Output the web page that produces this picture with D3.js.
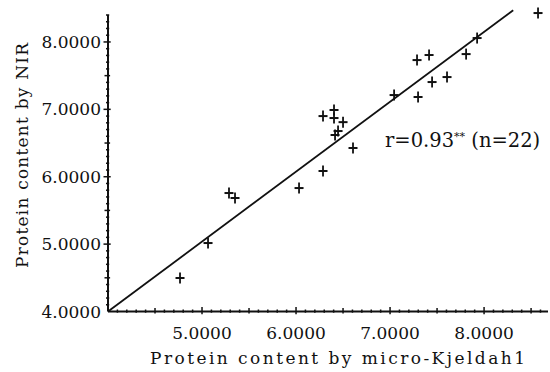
<!DOCTYPE html>
<html>
<head>
<meta charset="utf-8">
<script src="https://cdn.jsdelivr.net/npm/d3@7"></script>
<style>
  body { margin: 0; background: #fff; }
  text { font-family: "DejaVu Serif", serif; fill: #111; }
</style>
</head>
<body>
<script>
// protein content, micro-Kjeldahl (x) vs NIR (y)
var kjeldahl = [4.766, 5.064, 5.287, 5.351, 6.032, 6.287, 6.606, 6.287, 6.404, 6.404, 6.500,
                6.415, 6.447, 7.043, 7.298, 7.447, 7.606, 7.287, 7.415, 7.809, 7.926, 8.574];
var nir      = [4.497, 5.016, 5.758, 5.684, 5.832, 6.085, 6.426, 6.900, 6.990, 6.871, 6.810,
                6.619, 6.678, 7.212, 7.183, 7.405, 7.479, 7.731, 7.806, 7.820, 8.058, 8.429];
// regression line end points
var fitX = [4.0, 8.31];
var fitY = [4.0, 8.47];
var xTicks = [5, 6, 7, 8];
var yTicks = [4, 5, 6, 7, 8];

var w = 550, h = 372;
var svg = d3.select("body").append("svg").attr("width", w).attr("height", h);

var x = d3.scaleLinear().domain([4, 8.68]).range([108, 548]);
var y = d3.scaleLinear().domain([4, 8.4]).range([311.5, 15]);
var fmt = d3.format(".4f");

// axes lines
svg.append("line").attr("x1", x(4)).attr("x2", x(8.68)).attr("y1", y(4)).attr("y2", y(4))
  .attr("stroke", "#111").attr("stroke-width", 2);
svg.append("line").attr("x1", x(4)).attr("x2", x(4)).attr("y1", y(4)).attr("y2", y(8.4))
  .attr("stroke", "#111").attr("stroke-width", 2);

// minor ticks every 0.1, medium at .5, major at integers
function tickLen(v) {
  var r = Math.round(v * 10) % 10;
  if (r == 0) return 4.5;
  if (r == 5) return 3.5;
  return 2;
}
var xMinor = d3.range(41, 87).map(function(d) { return d / 10; });
var yMinor = d3.range(41, 85).map(function(d) { return d / 10; });

svg.append("g").selectAll("line").data(xMinor).enter().append("line")
  .attr("x1", function(d) { return x(d); }).attr("x2", function(d) { return x(d); })
  .attr("y1", function(d) { return y(4) - tickLen(d); })
  .attr("y2", function(d) { return y(4) + tickLen(d) * 0.6; })
  .attr("stroke", "#111").attr("stroke-width", 1.5);

svg.append("g").selectAll("line").data(yMinor).enter().append("line")
  .attr("y1", function(d) { return y(d); }).attr("y2", function(d) { return y(d); })
  .attr("x1", function(d) { return x(4) - tickLen(d); })
  .attr("x2", function(d) { return x(4) + tickLen(d) * 0.6; })
  .attr("stroke", "#111").attr("stroke-width", 1.5);

// tick labels
svg.append("g").selectAll("text").data(xTicks).enter().append("text")
  .attr("x", function(d) { return x(d); }).attr("y", y(4) + 27)
  .attr("text-anchor", "middle").attr("font-size", 17)
  .text(function(d) { return fmt(d); });

svg.append("g").selectAll("text").data(yTicks).enter().append("text")
  .attr("x", x(4) - 7).attr("y", function(d) { return y(d) + 6; })
  .attr("text-anchor", "end").attr("font-size", 17)
  .text(function(d) { return fmt(d); });

// axis titles (wide letter spacing like the scan)
svg.append("text").attr("x", 150).attr("y", 364)
  .attr("font-size", 17).attr("textLength", 375).attr("lengthAdjust", "spacing")
  .text("Protein content by micro-Kjeldah1");
svg.append("text").attr("transform", "translate(28,268) rotate(-90)")
  .attr("font-size", 17).attr("textLength", 225).attr("lengthAdjust", "spacing")
  .text("Protein content by NIR");

// regression line
svg.append("line").attr("x1", x(fitX[0])).attr("y1", y(fitY[0]))
  .attr("x2", x(fitX[1])).attr("y2", y(fitY[1]))
  .attr("stroke", "#111").attr("stroke-width", 1.8);

// plus markers
var pts = d3.zip(kjeldahl, nir);
var mk = svg.append("g").selectAll("g").data(pts).enter().append("g")
  .attr("transform", function(d) { return "translate(" + x(d[0]) + "," + y(d[1]) + ")"; });
mk.append("line").attr("x1", -4.5).attr("x2", 4.5).attr("y1", 0).attr("y2", 0)
  .attr("stroke", "#111").attr("stroke-width", 2);
mk.append("line").attr("x1", 0).attr("x2", 0).attr("y1", -5.5).attr("y2", 5.5)
  .attr("stroke", "#111").attr("stroke-width", 1.8);

// correlation note
var note = svg.append("text").attr("x", 385).attr("y", 147).attr("font-size", 19.5);
note.append("tspan").text("r=0.93");
note.append("tspan").attr("font-size", 11).attr("dy", -7).text("**");
note.append("tspan").attr("dy", 7).text(" (n=22)");
</script>
</body>
</html>
